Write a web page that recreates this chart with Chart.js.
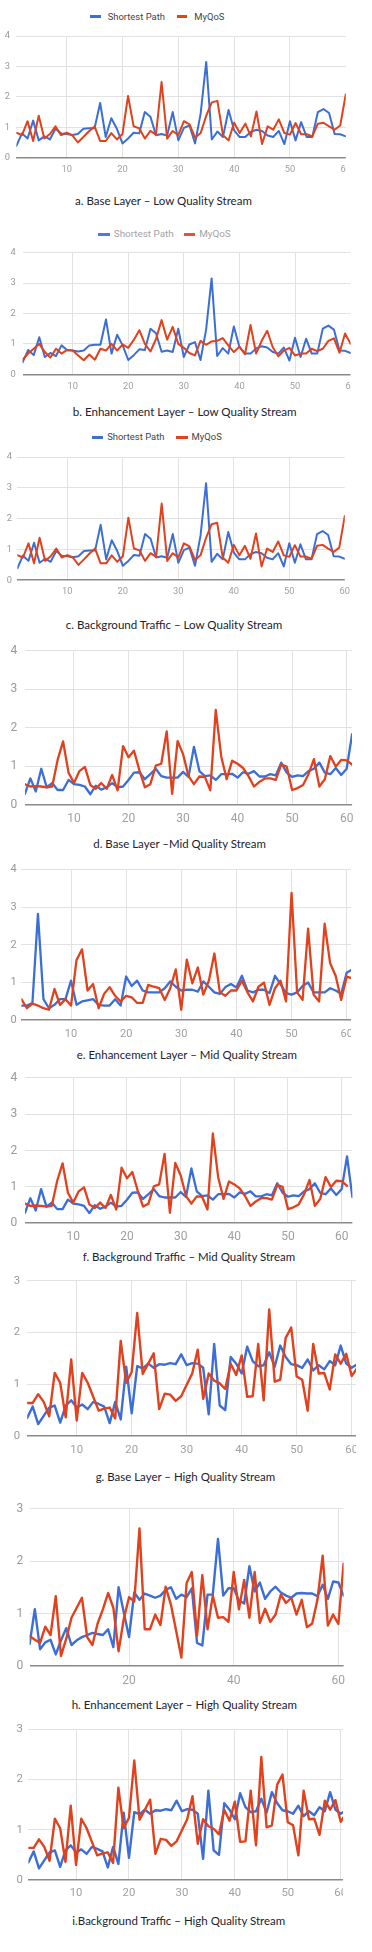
<!DOCTYPE html>
<html>
<head>
<meta charset="utf-8">
<script src="https://cdn.jsdelivr.net/npm/chart.js@4.4.1/dist/chart.umd.min.js"></script>
<style>
html,body{margin:0;padding:0;background:#fff;}
body{width:372px;height:1952px;position:relative;overflow:hidden;font-family:Roboto,"Liberation Sans",sans-serif;}
.panel{position:absolute;left:0;overflow:hidden;}
.panel canvas{position:absolute;left:0;top:0;}
.cap{position:absolute;white-space:nowrap;font-family:Lato,"Open Sans",sans-serif;color:#22222e;line-height:1;}
.legend{position:absolute;height:12px;display:flex;align-items:center;white-space:nowrap;font-family:Roboto,sans-serif;line-height:12px;}
.legend .mk{display:inline-block;height:3px;}
</style>
</head>
<body>
<script>
// ---------- DATA ----------
const SERIES_NAMES = ['Shortest Path', 'MyQoS'];
const X_TICKS_BY10 = [10, 20, 30, 40, 50, 60];
const X_TICKS_BY20 = [20, 40, 60];
const Y_TICKS_0_4 = [0, 1, 2, 3, 4];
const Y_TICKS_0_3 = [0, 1, 2, 3];

const CAPTIONS = [
  'a. Base Layer \u2013 Low Quality Stream',
  'b. Enhancement Layer \u2013 Low Quality Stream',
  'c. Background Traffic \u2013 Low Quality Stream',
  'd. Base Layer \u2013Mid Quality Stream',
  'e. Enhancement Layer \u2013 Mid Quality Stream',
  'f. Background Traffic \u2013 Mid Quality Stream',
  'g. Base Layer \u2013 High Quality Stream',
  'h. Enhancement Layer \u2013 High Quality Stream',
  'i.Background Traffic \u2013 High Quality Stream'
];

// a. Base Layer - Low
const A_SHORTEST = [0.39,0.8,0.63,1.22,0.57,0.7,0.6,0.95,0.8,0.78, 0.75,0.78,0.95,0.97,0.97,1.8,0.68,1.3,0.95,0.47, 0.63,0.82,0.8,1.5,1.35,0.74,0.78,0.73,1.5,0.57, 0.98,1.06,0.47,1.45,3.15,0.6,0.86,0.68,1.57,0.9, 0.68,0.68,0.85,0.92,0.88,0.73,0.68,0.88,0.45,1.2, 0.57,1.17,0.68,0.68,1.5,1.6,1.47,0.78,0.77,0.7];
const A_MYQOS = [0.82,0.74,1.2,0.55,1.38,0.63,0.78,1.03,0.74,0.82, 0.74,0.5,0.68,0.87,1.03,0.55,0.55,0.81,0.6,0.78, 2.03,1.03,0.97,0.63,0.88,0.76,2.49,0.63,0.88,0.74, 1.2,1.1,0.66,0.81,1.38,1.82,1.87,0.74,0.57,1.15, 0.81,1.12,0.7,1.52,0.45,1.03,0.92,1.26,0.81,0.76, 1.14,0.77,0.77,0.7,1.12,1.15,1.03,0.92,1.06,2.09];
// b. Enhancement Layer - Low
const B_SHORTEST = [0.39,0.8,0.63,1.22,0.57,0.7,0.6,0.95,0.8,0.78, 0.75,0.78,0.95,0.97,0.97,1.8,0.68,1.3,0.95,0.47, 0.63,0.82,0.8,1.5,1.35,0.74,0.78,0.73,1.5,0.57, 0.98,1.06,0.47,1.45,3.15,0.6,0.86,0.68,1.57,0.9, 0.68,0.68,0.85,0.92,0.88,0.73,0.68,0.88,0.45,1.2, 0.57,1.17,0.68,0.68,1.5,1.6,1.47,0.78,0.77,0.7];
const B_MYQOS = [0.48,0.68,0.84,1.0,0.73,0.55,0.84,0.68,0.8,0.78, 0.62,0.46,0.65,0.48,0.84,0.78,1.0,0.78,0.98,0.87, 1.13,1.45,1.0,0.75,1.16,1.78,1.14,1.56,1.0,0.87, 0.7,0.62,1.1,0.97,1.08,1.1,1.19,0.95,0.73,0.91, 0.66,1.62,0.68,1.1,1.43,0.89,0.59,0.78,0.87,0.62, 0.68,0.68,0.84,0.76,0.84,1.1,1.18,0.71,1.34,1.0];
// c. Background Traffic - Low
const C_SHORTEST = [0.39,0.8,0.63,1.22,0.57,0.7,0.6,0.95,0.8,0.78, 0.75,0.78,0.95,0.97,0.97,1.8,0.68,1.3,0.95,0.47, 0.63,0.82,0.8,1.5,1.35,0.74,0.78,0.73,1.5,0.57, 0.98,1.06,0.47,1.45,3.15,0.6,0.86,0.68,1.57,0.9, 0.68,0.68,0.85,0.92,0.88,0.73,0.68,0.88,0.45,1.2, 0.57,1.17,0.68,0.68,1.5,1.6,1.47,0.78,0.77,0.7];
const C_MYQOS = [0.82,0.74,1.2,0.55,1.38,0.63,0.78,1.03,0.74,0.82, 0.74,0.5,0.68,0.87,1.03,0.55,0.55,0.81,0.6,0.78, 2.03,1.03,0.97,0.63,0.88,0.76,2.49,0.63,0.88,0.74, 1.2,1.1,0.66,0.81,1.38,1.82,1.87,0.74,0.57,1.15, 0.81,1.12,0.7,1.52,0.45,1.03,0.92,1.26,0.81,0.76, 1.14,0.77,0.77,0.7,1.12,1.15,1.03,0.92,1.06,2.09];
// d. Base Layer - Mid
const D_SHORTEST = [0.29,0.69,0.35,0.94,0.46,0.57,0.39,0.39,0.65,0.54, 0.52,0.48,0.28,0.5,0.4,0.46,0.57,0.46,0.48,0.65, 0.84,0.85,0.67,0.8,0.94,0.75,0.71,0.71,0.71,0.86, 0.73,1.51,0.88,0.75,0.77,0.65,0.8,0.8,0.81,0.71, 0.85,0.81,0.88,0.74,0.74,0.8,0.77,1.1,0.84,0.73, 0.77,0.75,0.88,0.94,1.1,0.84,0.8,0.96,0.78,0.94,1.84];
const D_MYQOS = [0.54,0.48,0.49,0.48,0.46,0.48,1.17,1.65,0.84,0.57, 0.88,0.99,0.52,0.42,0.57,0.42,0.78,0.38,1.53,1.24, 1.41,0.9,0.46,0.54,1.02,1.07,1.91,0.29,1.66,1.32, 0.75,0.54,0.74,0.73,0.38,2.47,1.26,0.67,1.15,1.07, 0.96,0.75,0.48,0.6,0.69,0.69,0.65,1.05,1.0,0.39, 0.44,0.52,0.8,1.19,0.48,0.67,1.27,1.0,1.17,1.16,1.05];
// e. Enhancement Layer - Mid
const E_SHORTEST = [0.39,0.39,0.46,2.82,0.56,0.32,0.41,0.56,0.56,1.05, 0.41,0.5,0.53,0.56,0.41,0.39,0.39,0.56,0.39,1.16, 0.91,1.05,0.79,0.74,0.74,0.74,0.85,1.03,0.89,0.79, 0.81,0.81,0.76,1.03,0.89,0.74,0.7,0.88,0.96,0.87, 1.18,0.79,0.74,0.81,0.81,0.72,1.18,0.96,0.72,0.68, 0.74,0.91,1.0,0.74,0.74,0.74,0.85,0.79,0.7,1.26,1.35];
const E_MYQOS = [0.56,0.32,0.44,0.39,0.32,0.28,0.83,0.41,0.56,0.39, 1.6,1.88,0.79,0.96,0.32,0.7,0.88,0.65,0.5,0.65, 0.61,0.46,0.46,0.94,0.89,0.85,0.54,0.85,1.35,0.28, 1.61,0.98,1.4,0.68,1.05,1.77,0.74,0.65,0.79,0.79, 1.05,0.74,0.5,0.89,1.0,0.41,0.85,1.05,0.5,3.38, 0.74,0.54,2.43,0.68,0.5,2.56,1.51,1.18,0.54,1.16,1.11];
// f. Background Traffic - Mid
const F_SHORTEST = [0.29,0.69,0.35,0.94,0.46,0.57,0.39,0.39,0.65,0.54, 0.52,0.48,0.28,0.5,0.4,0.46,0.57,0.46,0.48,0.65, 0.84,0.85,0.67,0.8,0.94,0.75,0.71,0.71,0.71,0.86, 0.73,1.51,0.88,0.75,0.77,0.65,0.8,0.8,0.81,0.71, 0.85,0.81,0.88,0.74,0.74,0.8,0.77,1.1,0.84,0.73, 0.77,0.75,0.88,0.94,1.1,0.84,0.8,0.96,0.78,0.94,1.84,0.72];
const F_MYQOS = [0.54,0.48,0.49,0.48,0.46,0.48,1.17,1.65,0.84,0.57, 0.88,0.99,0.52,0.42,0.57,0.42,0.78,0.38,1.53,1.24, 1.41,0.9,0.46,0.54,1.02,1.07,1.91,0.29,1.66,1.32, 0.75,0.54,0.74,0.73,0.38,2.47,1.26,0.67,1.15,1.07, 0.96,0.75,0.48,0.6,0.69,0.69,0.65,1.05,1.0,0.39, 0.44,0.52,0.8,1.19,0.48,0.67,1.27,1.0,1.17,1.16,1.03];
// g. Base Layer - High
const G_SHORTEST = [0.35,0.57,0.23,0.39,0.55,0.59,0.26,0.59,0.69,0.55, 0.61,0.52,0.66,0.62,0.57,0.25,0.66,0.32,1.34,0.44, 1.35,1.31,1.4,1.32,1.39,1.38,1.41,1.39,1.58,1.37, 1.41,1.4,1.32,0.42,1.78,0.59,0.5,1.53,1.4,1.21, 1.73,1.45,1.35,1.37,1.62,1.34,1.75,1.53,1.39,1.37, 1.32,1.48,1.27,1.37,1.29,1.45,1.37,1.75,1.4,1.32,1.39];
const G_MYQOS = [0.64,0.64,0.81,0.66,0.38,1.22,1.03,0.36,1.48,0.3, 1.22,1.03,0.76,0.49,0.53,0.55,0.34,1.84,1.03,1.24, 2.38,1.2,1.4,1.6,0.52,0.82,0.8,0.68,0.77,0.99, 1.21,1.67,0.72,1.21,1.07,1.02,0.91,1.4,1.18,1.56, 0.76,0.77,1.78,0.69,2.45,1.05,1.09,1.9,2.1,1.15, 1.09,0.49,1.78,1.21,1.22,0.9,1.58,1.4,1.59,1.16,1.32];
// h. Enhancement Layer - High
const H_SHORTEST = [0.42,1.08,0.32,0.45,0.5,0.22,0.49,0.72,0.4,0.49, 0.55,0.59,0.63,0.61,0.59,0.7,0.36,1.5,1.02,0.55, 1.4,1.26,1.38,1.34,1.3,1.34,1.45,1.5,1.28,1.36, 1.31,1.48,0.44,0.39,1.36,1.36,2.42,1.34,1.48,1.48, 1.25,1.19,1.9,1.42,1.59,1.28,1.42,1.51,1.4,1.34, 1.3,1.38,1.39,1.38,1.38,1.33,1.55,1.28,1.61,1.59,1.34];
const H_MYQOS = [0.57,0.5,0.44,0.75,0.59,1.33,0.19,0.52,0.92,1.11, 1.3,0.55,0.4,0.81,1.08,1.39,1.11,0.28,0.9,1.31, 1.23,2.62,0.7,0.7,0.98,0.78,1.51,1.17,0.67,0.16, 1.58,1.79,0.58,1.73,0.7,1.34,0.92,0.93,0.84,1.79, 1.08,1.64,0.92,1.79,0.82,1.09,0.84,0.98,1.36,1.2, 1.3,0.98,1.26,0.74,0.81,1.26,2.1,0.77,0.98,0.8,1.95];
// i. Background Traffic - High
const I_SHORTEST = [0.35,0.57,0.23,0.39,0.55,0.59,0.26,0.59,0.69,0.55, 0.61,0.52,0.66,0.62,0.57,0.25,0.66,0.32,1.34,0.44, 1.35,1.31,1.4,1.32,1.39,1.38,1.41,1.39,1.58,1.37, 1.41,1.4,1.32,0.42,1.78,0.59,0.5,1.53,1.4,1.21, 1.73,1.45,1.35,1.37,1.62,1.34,1.75,1.53,1.39,1.37, 1.32,1.48,1.27,1.37,1.29,1.45,1.37,1.75,1.4,1.32,1.39];
const I_MYQOS = [0.64,0.64,0.81,0.66,0.38,1.22,1.03,0.36,1.48,0.3, 1.22,1.03,0.76,0.49,0.53,0.55,0.34,1.84,1.03,1.24, 2.38,1.2,1.4,1.6,0.52,0.82,0.8,0.68,0.77,0.99, 1.21,1.67,0.72,1.21,1.07,1.02,0.91,1.4,1.18,1.56, 0.76,0.77,1.78,0.69,2.45,1.05,1.09,1.9,2.1,1.15, 1.09,0.49,1.78,1.21,1.22,0.9,1.58,1.4,1.59,1.16,1.32];

// ---------- LAYOUT / STYLE (positions only) ----------
const COLORS = ['#3c6ed6', '#e1411c'];
const PANELS = [
  {sp:A_SHORTEST, mq:A_MYQOS, xt:X_TICKS_BY10, yt:Y_TICKS_0_4, xmax:60, ymax:4, top:34.3, bot:157.7, left:16.4, right:345.8, clip:346, fs:9.3, xPad:6.0, yPad:6.5, lw:2},
  {sp:B_SHORTEST, mq:B_MYQOS, xt:X_TICKS_BY10, yt:Y_TICKS_0_4, xmax:60, ymax:4, top:250.7, bot:374.3, left:22.6, right:350.6, clip:351, fs:9.3, xPad:6.8, yPad:7, lw:2},
  {sp:C_SHORTEST, mq:C_MYQOS, xt:X_TICKS_BY10, yt:Y_TICKS_0_4, xmax:60, ymax:4, top:456.7, bot:580.3, left:17.4, right:344.8, clip:372, fs:9.3, xPad:6.1, yPad:5.5, lw:2},
  {sp:D_SHORTEST, mq:D_MYQOS, xt:X_TICKS_BY10, yt:Y_TICKS_0_4, xmax:61, ymax:4, top:646.0, bot:805.0, left:24.9, right:352.1, clip:372, fs:12, xPad:6.8, yPad:7.7, lw:2.3},
  {sp:E_SHORTEST, mq:E_MYQOS, xt:X_TICKS_BY10, yt:Y_TICKS_0_4, xmax:61, ymax:4, top:868.3, bot:1020.3, left:21.4, right:352.2, clip:351, fs:11, xPad:7.8, yPad:4.8, lw:2.3},
  {sp:F_SHORTEST, mq:F_MYQOS, xt:X_TICKS_BY10, yt:Y_TICKS_0_4, xmax:62, ymax:4, top:1073.3, bot:1223.3, left:25.0, right:352.4, clip:372, fs:12, xPad:6.2, yPad:7.7, lw:2.3},
  {sp:G_SHORTEST, mq:G_MYQOS, xt:X_TICKS_BY10, yt:Y_TICKS_0_3, xmax:61, ymax:3, top:1277.4, bot:1436.0, left:27.2, right:357.2, clip:356, fs:11.3, xPad:6.9, yPad:7.2, lw:2.4},
  {sp:H_SHORTEST, mq:H_MYQOS, xt:X_TICKS_BY20, yt:Y_TICKS_0_3, xmax:61, ymax:3, top:1505.5, bot:1666.0, left:29.6, right:343.6, clip:345, fs:12, xPad:7.8, yPad:6.3, lw:2.4},
  {sp:I_SHORTEST, mq:I_MYQOS, xt:X_TICKS_BY10, yt:Y_TICKS_0_3, xmax:61, ymax:3, top:1727.5, bot:1880.0, left:28.4, right:346.0, clip:343, fs:11.3, xPad:6.5, yPad:5.6, lw:2.4}
];
const CAPTION_POS = [
  {cx:164.0, cy:200.8, w:178.0}, {cx:185.2, cy:412.0, w:225.0}, {cx:174.5, cy:625.0, w:217.6},
  {cx:180.0, cy:843.7, w:173.4}, {cx:187.2, cy:1055.0, w:221.0}, {cx:189.3, cy:1257.0, w:213.3},
  {cx:185.8, cy:1476.7, w:180.3}, {cx:184.7, cy:1705.0, w:226.0}, {cx:179.2, cy:1921.4, w:213.7}
];
const LEGENDS = [
  {panel:0, cy:16.7, left:90.0, tw:57.3, mw:10.5, gapText:7.2, gapItem:11.7, color:'#444444', mkAlpha:1},
  {panel:1, cy:234.0, left:98.3, tw:60.0, mw:11.7, gapText:3.8, gapItem:10.0, color:'#a3a3a3', mkAlpha:0.9},
  {panel:2, cy:437.3, left:91.7, tw:57.3, mw:11.5, gapText:4.0, gapItem:11.7, color:'#444444', mkAlpha:1}
];

const measureCtx = document.createElement('canvas').getContext('2d');
function textWidth(txt, font) { measureCtx.font = font; return measureCtx.measureText(txt).width; }

const charts = [];
PANELS.forEach((p, idx) => {
  const divTop = Math.floor(p.top - 10);
  const PT = p.top - divTop;
  const plotH = p.bot - p.top;
  const H = Math.ceil(PT + plotH + 24);
  const XH = H - PT - plotH;
  const W = Math.ceil(p.right + 14);
  const PR = W - p.right;
  const div = document.createElement('div');
  div.className = 'panel';
  div.style.top = divTop + 'px';
  div.style.width = Math.min(p.clip, W) + 'px';
  div.style.height = H + 'px';
  const cv = document.createElement('canvas');
  cv.width = W; cv.height = H;
  cv.style.width = W + 'px'; cv.style.height = H + 'px';
  div.appendChild(cv);
  document.body.appendChild(div);

  const tickFont = {family: 'Roboto', size: p.fs};
  const chart = new Chart(cv.getContext('2d'), {
    type: 'line',
    data: {
      datasets: [
        {label: SERIES_NAMES[0], data: p.sp.map((v, i) => ({x: i + 1, y: v})), borderColor: COLORS[0], backgroundColor: COLORS[0], order: 1},
        {label: SERIES_NAMES[1], data: p.mq.map((v, i) => ({x: i + 1, y: v})), borderColor: COLORS[1], backgroundColor: COLORS[1], order: 0}
      ]
    },
    options: {
      responsive: false, animation: false, devicePixelRatio: 1,
      layout: {padding: {top: PT, right: PR, left: 0, bottom: 0}},
      plugins: {legend: {display: false}, tooltip: {enabled: false}},
      elements: {point: {radius: 0, hoverRadius: 0}, line: {borderWidth: p.lw, tension: 0, borderJoinStyle: 'round', borderCapStyle: 'round'}},
      scales: {
        x: {
          type: 'linear', min: 1, max: p.xmax,
          afterBuildTicks: s => { s.ticks = p.xt.map(v => ({value: v})); },
          afterFit: s => { s.height = XH; },
          border: {display: false},
          grid: {drawTicks: false, lineWidth: 1, color: c => (c.tick && c.tick.value === p.xmax) ? 'rgba(0,0,0,0)' : '#e2e2e2'},
          ticks: {padding: p.xPad, color: '#a0a0a0', font: tickFont, maxRotation: 0, autoSkip: false}
        },
        y: {
          min: 0, max: p.ymax,
          afterBuildTicks: s => { s.ticks = p.yt.map(v => ({value: v})); },
          afterFit: s => { s.width = p.left; },
          border: {display: false},
          grid: {drawTicks: false,
                 color: c => (c.tick && c.tick.value === 0) ? '#8a8a8a' : '#e2e2e2',
                 lineWidth: c => (c.tick && c.tick.value === 0) ? 1.6 : 1},
          ticks: {padding: p.yPad, color: '#999999', font: tickFont}
        }
      }
    }
  });
  charts.push(chart);
});

// HTML legends built from the chart datasets
LEGENDS.forEach(L => {
  const chart = charts[L.panel];
  const fs = 10 * L.tw / textWidth(SERIES_NAMES[0], '10px Roboto');
  const div = document.createElement('div');
  div.className = 'legend';
  div.style.left = L.left + 'px';
  div.style.top = (L.cy - 6) + 'px';
  div.style.fontSize = fs + 'px';
  div.style.color = L.color;
  chart.data.datasets.forEach((ds, i) => {
    const mk = document.createElement('span');
    mk.className = 'mk';
    mk.style.width = L.mw + 'px';
    mk.style.background = ds.borderColor;
    mk.style.opacity = L.mkAlpha;
    mk.style.marginRight = L.gapText + 'px';
    if (i > 0) mk.style.marginLeft = L.gapItem + 'px';
    const tx = document.createElement('span');
    tx.textContent = ds.label;
    div.appendChild(mk);
    div.appendChild(tx);
  });
  document.body.appendChild(div);
});

// Captions
CAPTIONS.forEach((txt, i) => {
  const c = CAPTION_POS[i];
  const fs = 11 * c.w / textWidth(txt, '11px Lato');
  const d = document.createElement('div');
  d.className = 'cap';
  d.textContent = txt;
  d.style.fontSize = fs + 'px';
  d.style.left = (c.cx - c.w / 2) + 'px';
  d.style.top = (c.cy - 0.53 * fs) + 'px';
  document.body.appendChild(d);
});
</script>
</body>
</html>
